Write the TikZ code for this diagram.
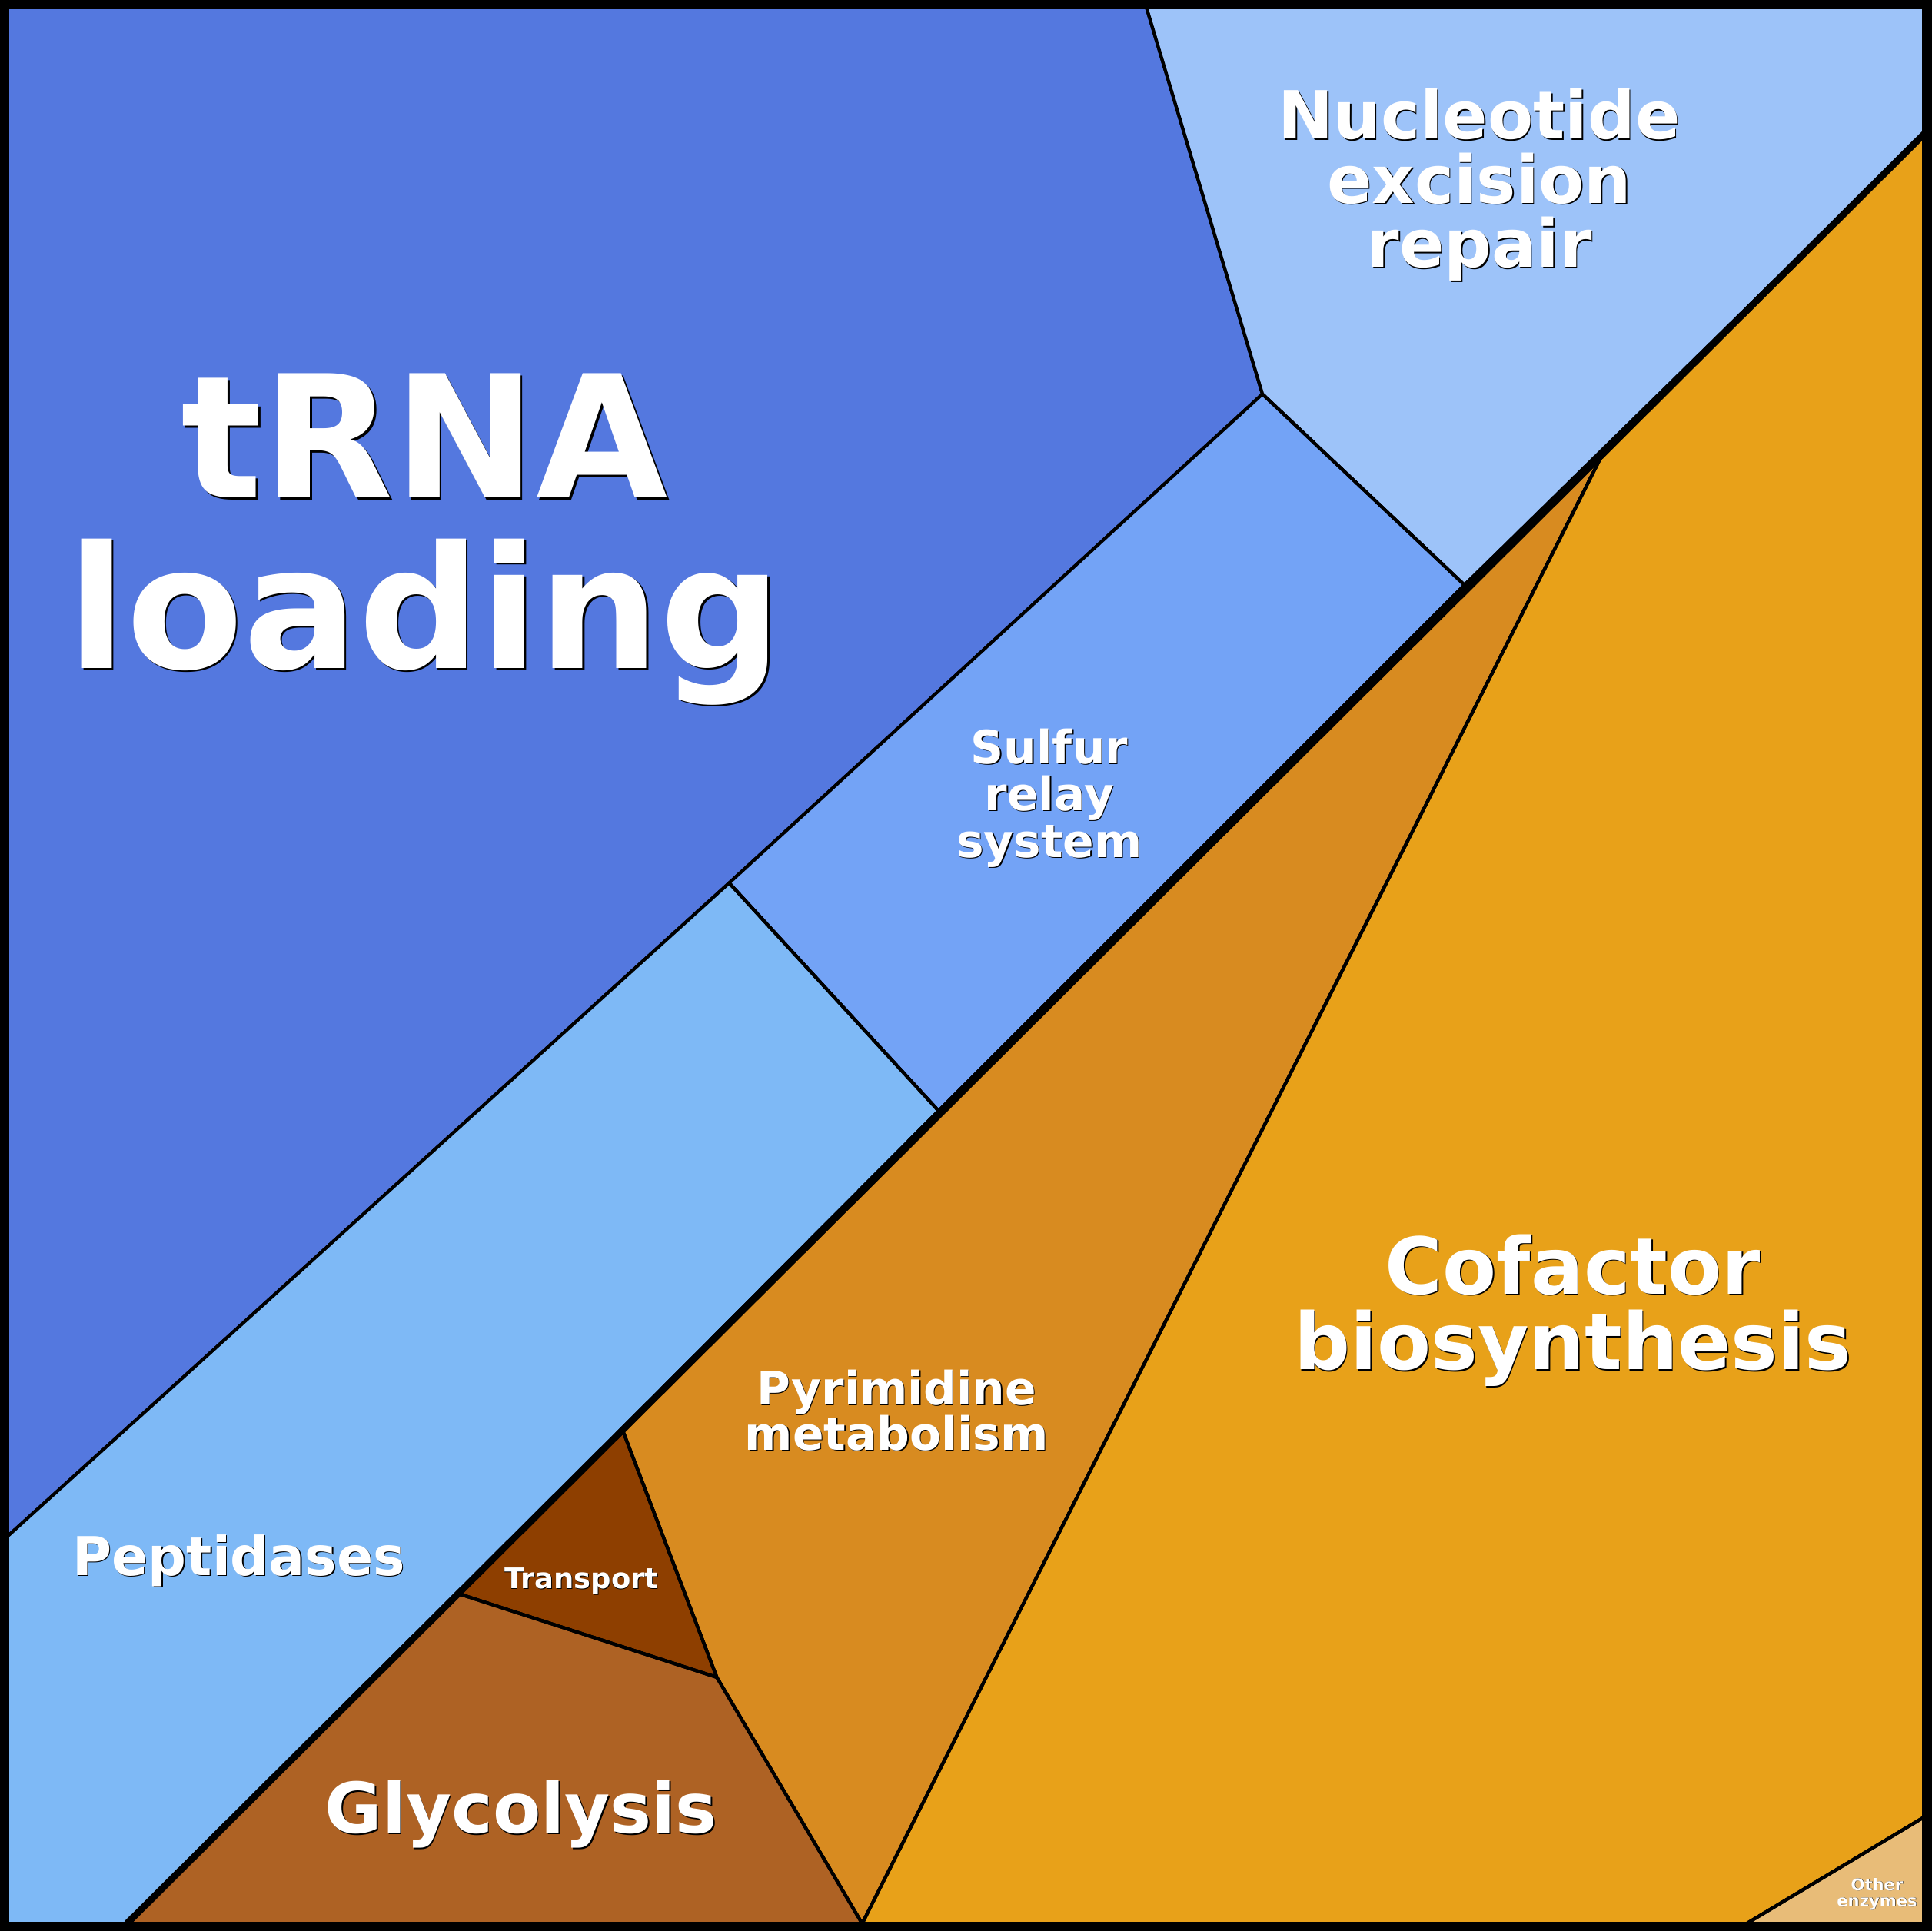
\documentclass[tikz,border=0pt]{standalone}
\usepackage{fontspec}
\setmainfont{DejaVu Sans}
\begin{document}
\begin{tikzpicture}[x=0.016cm,y=-0.016cm,
  cell/.style={draw=black,line width=1.2pt,line join=round},
  lbl/.style={text=white,font=\bfseries,align=center,inner sep=0pt}]
\definecolor{ctrna}{HTML}{5478DF}
\definecolor{cner}{HTML}{9DC3F9}
\definecolor{csul}{HTML}{73A3F6}
\definecolor{cpep}{HTML}{7EB9F6}
\definecolor{cpyr}{HTML}{D88B20}
\definecolor{ccof}{HTML}{E8A119}
\definecolor{ctra}{HTML}{8E3F00}
\definecolor{cgly}{HTML}{AE6224}
\definecolor{coth}{HTML}{E8BC78}
\useasboundingbox (0,0) rectangle (1568,1568);
\newcommand{\lab}[6]{%
  \node[lbl,text=black,font=\bfseries\fontsize{#4}{#5}\selectfont] at (#1+#6,#2+#6) {#3};
  \node[lbl,font=\bfseries\fontsize{#4}{#5}\selectfont] at (#1,#2) {#3};}
\fill[cell,fill=ctrna] (0,0)--(929,0)--(1025,320)--(592,717)--(0,1253)--cycle;
\fill[cell,fill=cner] (929,0)--(1568,0)--(1568,103)--(1189,475)--(1025,320)--cycle;
\fill[cell,fill=csul] (1025,320)--(1189,475)--(762,902)--(592,717)--cycle;
\fill[cell,fill=cpep] (592,717)--(762,902)--(505,1160)--(372,1294)--(103,1562)--(0,1562)--(0,1253)--cycle;
\fill[cell,fill=cpyr] (1303,365)--(1189,475)--(762,902)--(505,1160)--(582,1362)--(700,1562)--cycle;
\fill[cell,fill=ccof] (1303,365)--(1568,103)--(1568,1472)--(1418,1562)--(700,1562)--cycle;
\fill[cell,fill=ctra] (505,1160)--(582,1362)--(372,1294)--cycle;
\fill[cell,fill=cgly] (372,1294)--(582,1362)--(700,1562)--(103,1562)--cycle;
\fill[cell,fill=coth] (1418,1562)--(1568,1472)--(1568,1562)--cycle;
\draw[cell] (1025,320)--(1189,475) (592,717)--(762,902) (505,1160)--(582,1362)--(372,1294) (582,1362)--(700,1562) (1303,365)--(700,1562) (1418,1562)--(1568,1472);
\draw[line width=2.5pt] (1568,103)--(103,1562);
\draw[line width=4pt] (3,3) rectangle (1565,1565);
\lab{345}{438}{tRNA\\loading}{63}{63}{1.5}
\lab{1201}{150}{Nucleotide\\excision\\repair}{24.5}{23.7}{1}
\lab{852}{648}{Sulfur\\relay\\system}{17}{17.3}{0.8}
\lab{1277}{1064}{Cofactor\\biosynthesis}{29}{28}{1}
\lab{728}{1145}{Pyrimidine\\metabolism}{17}{16.8}{0.8}
\lab{194}{1267}{Peptidases}{19.8}{20}{0.8}
\lab{423}{1473}{Glycolysis}{25.8}{26}{1}
\lab{472}{1284}{Transport}{10.5}{10.5}{0.5}
\lab{1524}{1538}{Other\\enzymes}{6}{6}{0.3}
\end{tikzpicture}
\end{document}
